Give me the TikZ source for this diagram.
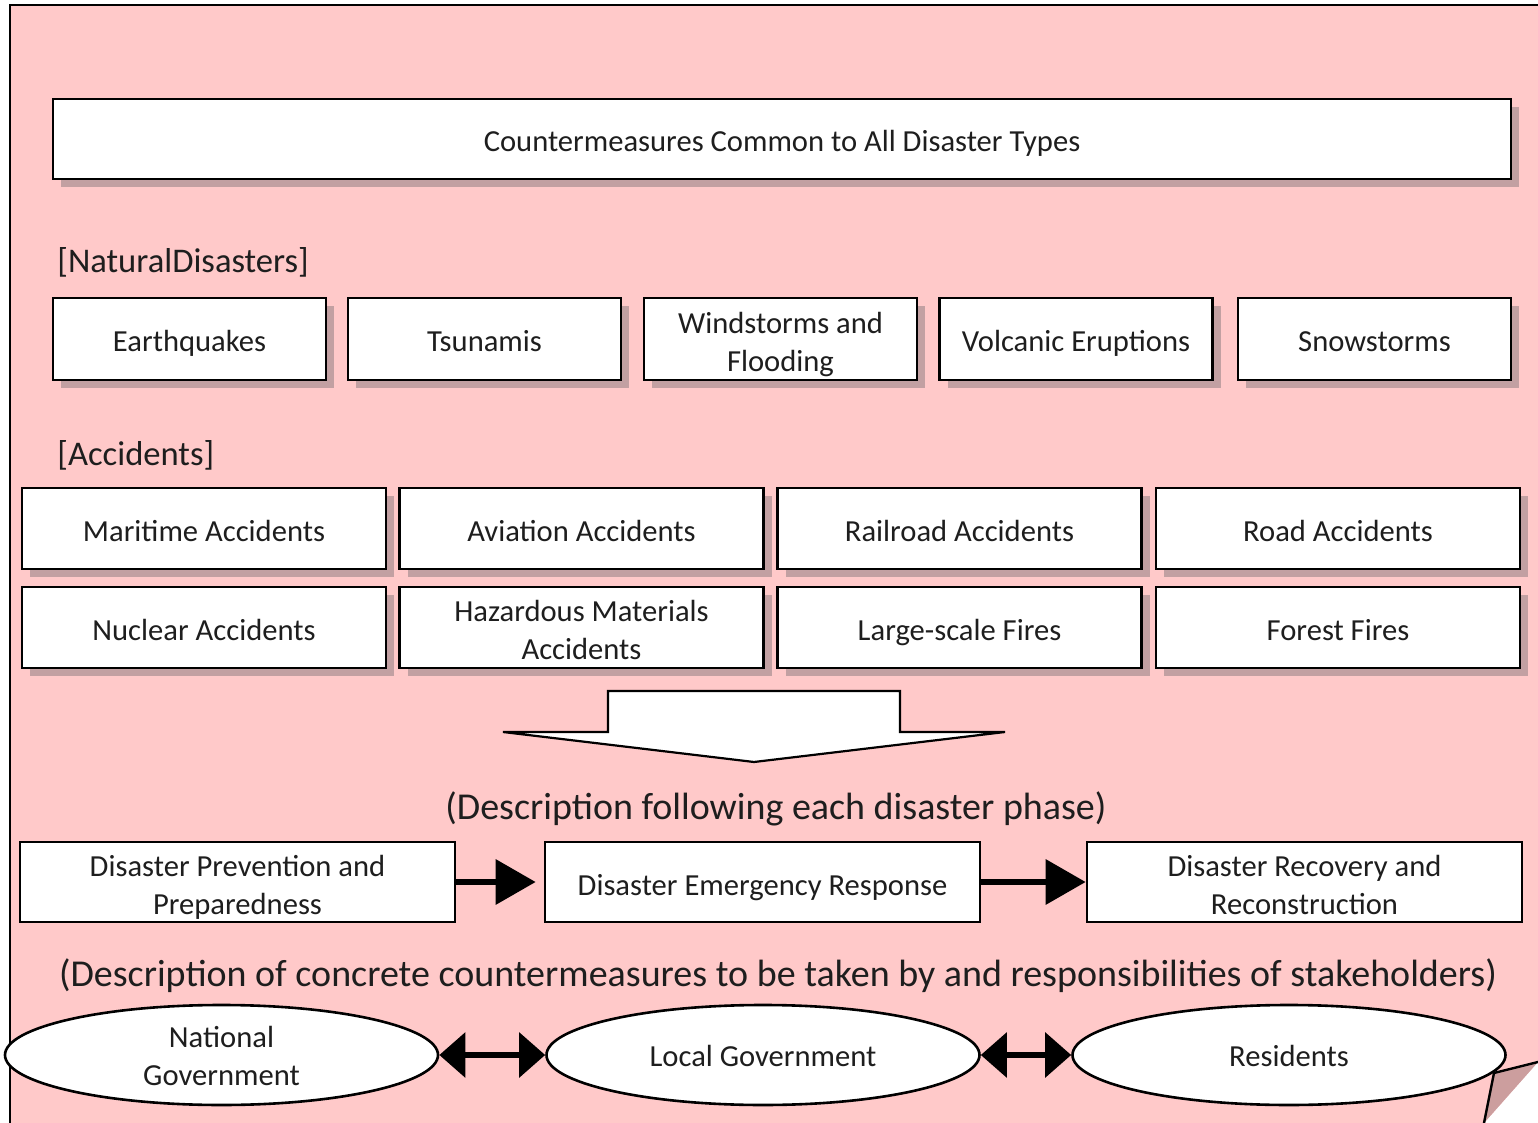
\documentclass[tikz,border=0pt]{standalone}
\usepackage{fontspec}
\setmainfont{Carlito}
\usetikzlibrary{shadows,arrows.meta,shapes.geometric}
\definecolor{bgpink}{RGB}{255,201,201}
\definecolor{shd}{RGB}{194,160,162}
\definecolor{curl}{RGB}{204,158,158}
\definecolor{txt}{RGB}{30,30,30}
\newcommand\bt[1]{\raisebox{-2.7pt}[\height][\depth]{\begin{tabular}{@{}c@{}}#1\end{tabular}}}
\newcommand\bte[1]{\raisebox{-5.4pt}{\begin{tabular}{@{}c@{}}#1\end{tabular}}}
\tikzset{
  every node/.style={text=txt},
  box/.style={draw=black,line width=1.3pt,fill=white,inner sep=0pt,font=\fontsize{15.3}{19}\selectfont},
  shbox/.style={box,drop shadow={shadow xshift=4pt,shadow yshift=-4pt,fill=shd,opacity=1}},
  natbox/.style={shbox,minimum width=136.5pt,minimum height=41pt},
  accbox/.style={shbox,minimum width=182pt,minimum height=40.5pt},
  phasebox/.style={box,minimum width=217.5pt,minimum height=40pt},
  stake/.style={box,ellipse,minimum width=216.5pt,minimum height=50pt,text height=1pt,text depth=1pt},
  heading/.style={font=\fontsize{17.3}{20}\selectfont,inner sep=0pt,anchor=west},
  desc/.style={font=\fontsize{19}{22}\selectfont,inner sep=0pt},
  fwd/.style={line width=3.2pt,-{Triangle[length=20pt,width=22pt]}},
  both/.style={line width=3pt,{Triangle[length=13pt,width=22pt]}-{Triangle[length=13pt,width=22pt]}},
}
\begin{document}
\begin{tikzpicture}[x=0.5pt,y=-0.5pt]
\useasboundingbox (0,0) rectangle (1538,1123);
% background panel
\fill[bgpink] (10,5) -- (1538,5) -- (1538,1062) -- (1484,1123) -- (10,1123) -- cycle;
\draw[line width=1.2pt] (10,1123) -- (10,5) -- (1538,5);
% page curl
\fill[curl] (1538,1062) -- (1494,1073) -- (1484,1123) -- cycle;
\draw[black,line width=1.2pt] (1538,1062) -- (1494,1073) -- (1484,1123);
% top box
\node[shbox,minimum width=729pt,minimum height=40pt] (common) at (782,139) {\bt{Countermeasures Common to All Disaster Types}};
% natural disasters
\node[heading] (natlab) at (57,262) {[NaturalDisasters]};
\node[natbox] (eq) at (189.5,339) {\bt{Earthquakes}};
\node[natbox] (ts) at (484.5,339) {\bt{Tsunamis}};
\node[natbox] (wf) at (780.5,339) {\bt{Windstorms and\\Flooding}};
\node[natbox] (ve) at (1076,339) {\bt{Volcanic Eruptions}};
\node[natbox] (sn) at (1374.5,339) {\bt{Snowstorms}};
% accidents
\node[heading] (acclab) at (57,455) {[Accidents]};
\node[accbox] (ma) at (204,528.5) {\bt{Maritime Accidents}};
\node[accbox] (aa) at (581.5,528.5) {\bt{Aviation Accidents}};
\node[accbox] (ra) at (959.5,528.5) {\bt{Railroad Accidents}};
\node[accbox] (roa) at (1338,528.5) {\bt{Road Accidents}};
\node[accbox] (na) at (204,627.5) {\bt{Nuclear Accidents}};
\node[accbox] (ha) at (581.5,627.5) {\bt{Hazardous Materials\\Accidents}};
\node[accbox] (lf) at (959.5,627.5) {\bt{Large-scale Fires}};
\node[accbox] (ff) at (1338,627.5) {\bt{Forest Fires}};
% big down arrow
\filldraw[fill=white,draw=black,line width=1.1pt] (608,732) -- (608,691) -- (900,691) -- (900,732) -- (1005,732) -- (754,762) -- (503,732) -- cycle;
% phases
\node[desc] (phdesc) at (776,809) {(Description following each disaster phase)};
\node[phasebox] (prev) at (237.5,882) {\bt{Disaster Prevention and\\Preparedness}};
\node[phasebox] (emer) at (762.5,882) {\bt{Disaster Emergency Response}};
\node[phasebox] (reco) at (1304.5,882) {\bt{Disaster Recovery and\\Reconstruction}};
\draw[fwd] (prev.east) -- ([xshift=-4pt]emer.west);
\draw[fwd] (emer.east) -- (reco.west);
% stakeholders
\node[desc] (stdesc) at (778,976) {(Description of concrete countermeasures to be taken by and responsibilities of stakeholders)};
\node[stake] (natg) at (221.5,1055) {\bte{National\\Government}};
\node[stake] (locg) at (763,1055) {\bte{Local Government}};
\node[stake] (res) at (1289,1055) {\bte{Residents}};
\draw[both] (natg.east) -- (locg.west);
\draw[both] (locg.east) -- (res.west);
\end{tikzpicture}
\end{document}
